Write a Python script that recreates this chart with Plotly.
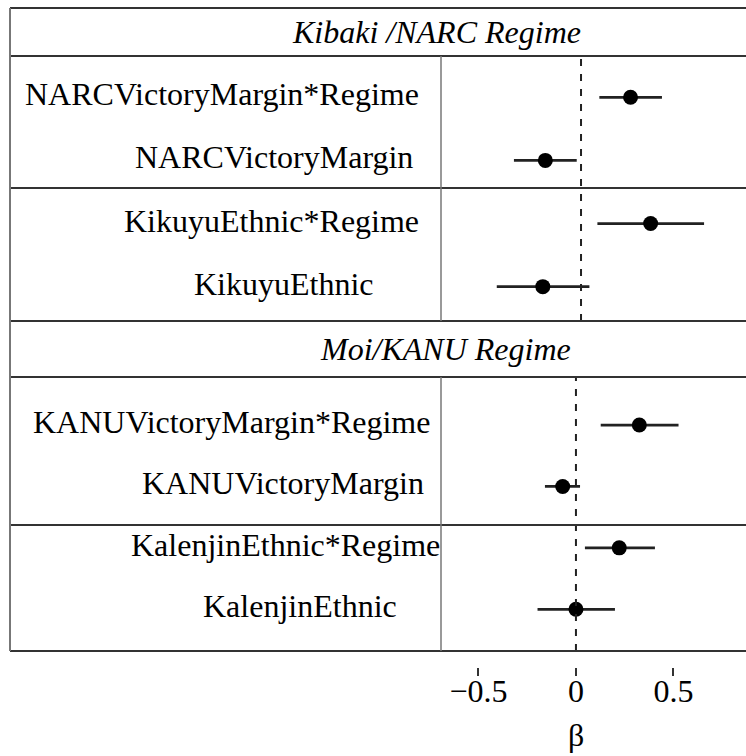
import plotly.graph_objects as go

# ---------------- data ----------------
top_labels = ["NARCVictoryMargin*Regime", "NARCVictoryMargin",
              "KikuyuEthnic*Regime", "KikuyuEthnic"]
top_est = [0.254, -0.183, 0.357, -0.196]
top_lo = [0.094, -0.344, 0.084, -0.432]
top_hi = [0.415, -0.022, 0.631, 0.043]

bot_labels = ["KANUVictoryMargin*Regime", "KANUVictoryMargin",
              "KalenjinEthnic*Regime", "KalenjinEthnic"]
bot_est = [0.325, -0.068, 0.222, 0.0]
bot_lo = [0.127, -0.159, 0.046, -0.197]
bot_hi = [0.526, 0.021, 0.405, 0.200]

panel_titles = ["Kibaki /NARC Regime", "Moi/KANU Regime"]
tick_vals = [-0.5, 0, 0.5]
tick_text = ["\u22120.5", "0", "0.5"]
axis_title = "\u03b2"

# ---------------- layout helpers ----------------
W, H = 746, 756
FONT = "Liberation Serif, Tinos, DejaVu Serif, Noto Serif, Times, serif"


def px(x):
    return x / W


def py(y):
    return 1 - y / H


fig = go.Figure()


def add_panel(est, lo, hi, xa, ya):
    rows = list(range(len(est)))
    fig.add_trace(go.Scatter(
        x=est, y=rows, mode="markers",
        marker=dict(color="black", size=15),
        error_x=dict(type="data", symmetric=False,
                     array=[h - e for h, e in zip(hi, est)],
                     arrayminus=[e - l for e, l in zip(est, lo)],
                     width=0, thickness=2.8, color="#222"),
        xaxis=xa, yaxis=ya, showlegend=False, hoverinfo="skip"))


add_panel(top_est, top_lo, top_hi, "x", "y")
add_panel(bot_est, bot_lo, bot_hi, "x2", "y2")

plot_dom = [px(441), 1]
fig.update_layout(
    width=W, height=H,
    margin=dict(l=0, r=0, t=0, b=0),
    paper_bgcolor="white", plot_bgcolor="white",
    font=dict(family=FONT, color="black", size=32),
    xaxis=dict(domain=plot_dom, range=[-0.718, 0.846], visible=False,
               anchor="y", fixedrange=True),
    yaxis=dict(domain=[py(321), py(56)], range=[3.544, -0.654],
               visible=False, anchor="x"),
    xaxis2=dict(domain=plot_dom, range=[-0.692, 0.872], anchor="free",
                position=py(667), tickvals=tick_vals, ticktext=tick_text,
                ticks="outside", ticklen=8, tickwidth=1.5, tickcolor="#333",
                ticklabelstandoff=-12,
                showline=False, showgrid=False, zeroline=False,
                tickfont=dict(family=FONT, size=32, color="black")),
    yaxis2=dict(domain=[py(651), py(377)], range=[3.679, -0.782],
                visible=False, anchor="x2"),
)

# zero reference lines (dashed)
fig.add_shape(type="line", xref="x", yref="paper", x0=0, x1=0,
              y0=py(321), y1=py(56),
              line=dict(color="#222", width=2, dash="7px,8px"))
fig.add_shape(type="line", xref="x2", yref="paper", x0=0, x1=0,
              y0=py(651), y1=py(377),
              line=dict(color="#222", width=2, dash="7px,8px"))

# frame lines
hcol, vcol = "#333", "#777"
for yy in [8, 56, 188, 321, 377, 525, 651]:
    fig.add_shape(type="line", xref="paper", yref="paper",
                  x0=px(10), x1=1, y0=py(yy), y1=py(yy),
                  line=dict(color=hcol, width=2))
fig.add_shape(type="line", xref="paper", yref="paper",
              x0=px(10), x1=px(10), y0=py(651), y1=py(8),
              line=dict(color=vcol, width=2))
for y0, y1 in [(56, 321), (377, 651)]:
    fig.add_shape(type="line", xref="paper", yref="paper",
                  x0=px(441), x1=px(441), y0=py(y1), y1=py(y0),
                  line=dict(color=vcol, width=1.5))

# panel headers
for title, yc, xr in zip(panel_titles, [32, 349], [583, 573]):
    fig.add_annotation(text="<i>" + title + "</i>", xref="paper", yref="paper",
                       x=px(xr), y=py(yc), xanchor="right", yanchor="middle",
                       showarrow=False, font=dict(size=32, family=FONT))

# row labels (right edges as in the reference)
top_right = [421, 415, 421, 376]
bot_right = [432, 426, 442, 399]
for labels, rights, yref in [(top_labels, top_right, "y"),
                             (bot_labels, bot_right, "y2")]:
    for i, (lab, r) in enumerate(zip(labels, rights)):
        fig.add_annotation(text=lab, xref="paper", yref=yref,
                           x=px(r), y=i, xanchor="right", yanchor="middle",
                           yshift=3, showarrow=False,
                           font=dict(size=32, family=FONT))

# axis title
fig.add_annotation(text=axis_title, xref="x2", yref="paper", x=0, y=py(735),
                   xanchor="center", yanchor="middle", showarrow=False,
                   font=dict(size=32, family=FONT))

fig.write_html("out.html")
